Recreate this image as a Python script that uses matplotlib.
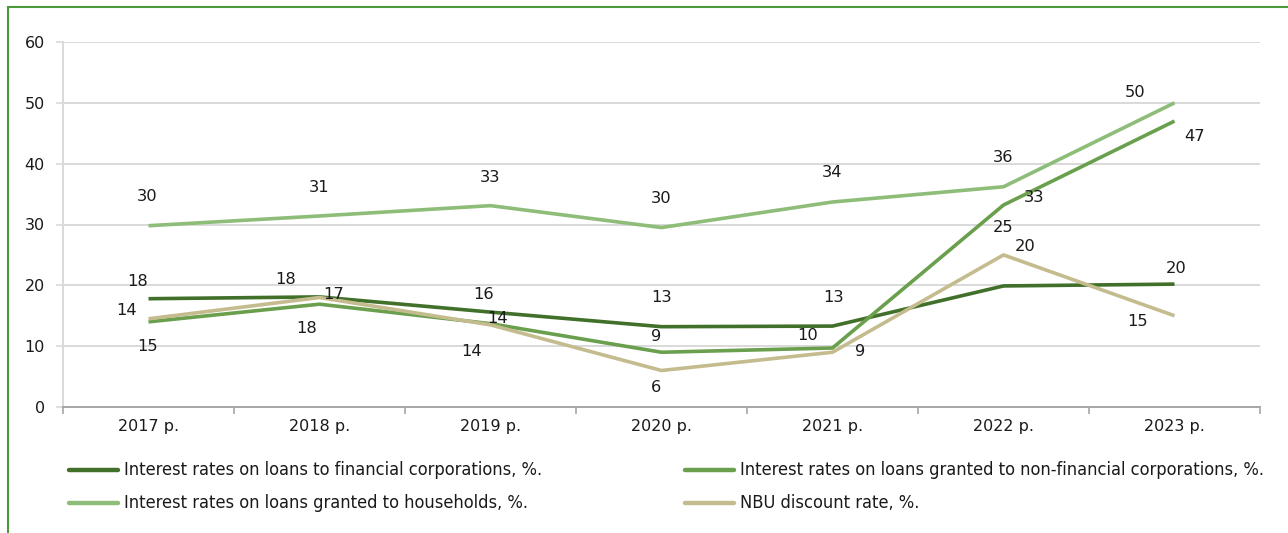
import matplotlib
matplotlib.use("Agg")
import matplotlib.pyplot as plt
from matplotlib.lines import Line2D
from matplotlib.patches import Rectangle
import math

years = ["2017 р.", "2018 р.", "2019 р.", "2020 р.", "2021 р.", "2022 р.", "2023 р."]
financial = [17.8, 18.1, 15.6, 13.2, 13.3, 19.9, 20.2]
non_financial = [14.0, 16.9, 13.7, 9.0, 9.7, 33.2, 47.0]
households = [29.8, 31.4, 33.1, 29.5, 33.7, 36.2, 50.0]
nbu_rate = [14.5, 18.0, 13.5, 6.0, 9.0, 25.0, 15.0]
series_names = [
    "Interest rates on loans to financial corporations, %.",
    "Interest rates on loans granted to non-financial corporations, %.",
    "Interest rates on loans granted to households, %.",
    "NBU discount rate, %.",
]

colors = ["#41702b", "#6a9f4e", "#8dbd78", "#c4bc8e"]
# label offsets in pixels (dx right, dy down) relative to each point
offsets = [
    [(-11, -17), (-34, -17), (-7, -18), (0, -29), (1, -29), (22, -39), (2, -16)],
    [(-22, -11), (14, -10), (7, -5), (-5, -16), (-25, -12), (31, -8), (20, 15)],
    [(-1, -29), (0, -28), (0, -28), (0, -29), (0, -29), (0, -29), (-39, -10)],
    [(-1, 28), (-13, 31), (-19, 27), (-5, 17), (28, -1), (0, -27), (-37, 6)],
]

W, H = 1288, 533
fig = plt.figure(figsize=(W / 100, H / 100), dpi=100)
ax = fig.add_axes([63 / W, 1 - 407 / H, (1260 - 63) / W, (407 - 42) / H])

x = list(range(len(years)))
data = [financial, non_financial, households, nbu_rate]
for vals, c in zip(data, colors):
    ax.plot(x, vals, color=c, lw=2.6, solid_capstyle="butt", zorder=3)

px = 0.72  # points per pixel
for vals, offs in zip(data, offsets):
    for xi, v, (dx, dy) in zip(x, vals, offs):
        ax.annotate(str(int(math.floor(v + 0.5))), (xi, v), xytext=(dx * px, -dy * px),
                    textcoords="offset points", ha="center", va="center",
                    fontsize=11.7, color="#1a1a1a", zorder=5)

ax.set_xlim(-0.5, len(years) - 0.5)
ax.set_ylim(0, 60)
ax.set_yticks(range(0, 61, 10))
ax.set_xticks(x)
ax.set_xticklabels(years)
ax.set_xticks([i - 0.5 for i in range(len(years) + 1)], minor=True)
ax.tick_params(axis="x", which="major", length=0, pad=9, labelsize=11.5, labelcolor="#1a1a1a")
ax.tick_params(axis="x", which="minor", length=5, width=1.2, color="#a6a6a6", direction="out")
ax.tick_params(axis="y", length=5, width=1.2, color="#d9d9d9", labelsize=11.5, pad=8, labelcolor="#1a1a1a")
ax.grid(axis="y", color="#d9d9d9", lw=1.4, zorder=0)
for s in ["top", "right"]:
    ax.spines[s].set_visible(False)
ax.spines["left"].set_color("#d9d9d9")
ax.spines["left"].set_linewidth(1.4)
ax.spines["bottom"].set_color("#a6a6a6")
ax.spines["bottom"].set_linewidth(1.4)

# legend (manual, two columns)
leg_pos = [(67, 470), (683, 470), (67, 503), (683, 503)]
for (lx, ly), name, c in zip(leg_pos, series_names, colors):
    fig.add_artist(Line2D([(lx + 2) / W, (lx + 51) / W], [1 - ly / H, 1 - ly / H], color=c, lw=3.2,
                          solid_capstyle="round", transform=fig.transFigure))
    fig.text((lx + 57) / W, 1 - ly / H, name, ha="left", va="center", fontsize=13.1,
             color="#1a1a1a", fontstretch="condensed")

# outer green frame
fig.add_artist(Rectangle((8 / W, -0.1), 1.2, 1 - 7 / H + 0.1, transform=fig.transFigure,
                         fill=False, edgecolor="#4a9a3a", lw=1.5))

fig.savefig("out.png", dpi=100)
